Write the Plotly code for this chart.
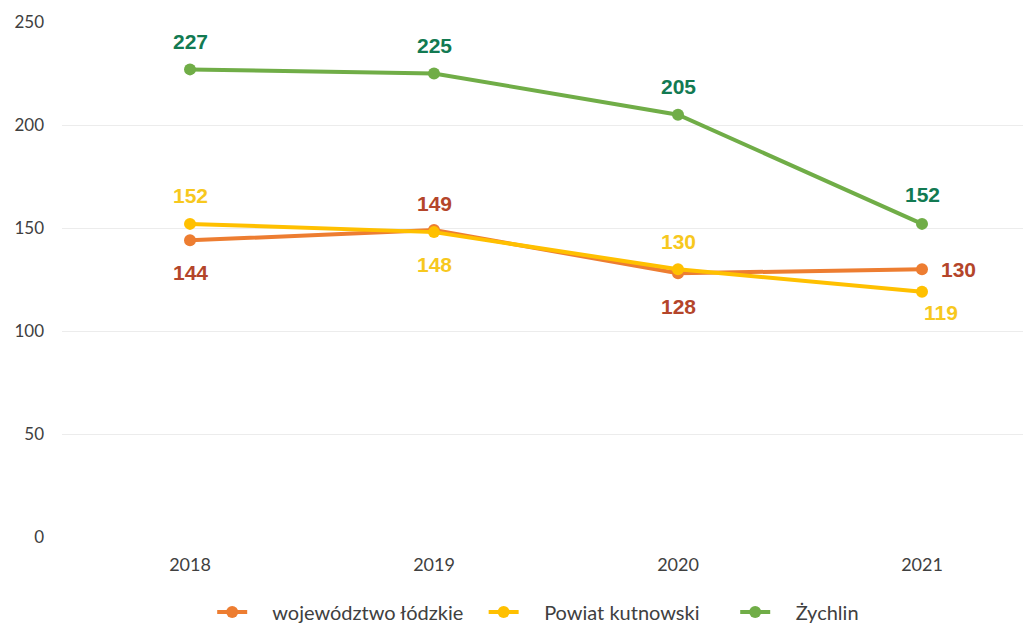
import plotly.graph_objects as go

years = [2018, 2019, 2020, 2021]
lodzkie = [144, 149, 128, 130]
kutnowski = [152, 148, 130, 119]
zychlin = [227, 225, 205, 152]
series_names = ["województwo łódzkie", "Powiat kutnowski", "Żychlin"]
y_ticks = [0, 50, 100, 150, 200, 250]

line_colors = ["#ED7D31", "#FFC000", "#70AD47"]
label_colors = ["#B4452A", "#F7C81E", "#127A52"]

# label offsets (xshift, yshift) per point
offsets = [
    [(0, -32), (0, 27), (0, -33), (36, 0)],
    [(0, 28), (0, -32), (0, 28), (19, -21)],
    [(0, 28), (0, 28), (0, 28), (0, 29)],
]

NB = "\u00a0"
pad_after = [3, 6, 0]
fig = go.Figure()
all_series = [lodzkie, kutnowski, zychlin]
for name, vals, lc, pa in zip(series_names, all_series, line_colors, pad_after):
    fig.add_trace(go.Scatter(
        x=years, y=vals, name=NB * 4 + name + NB * pa, mode="lines+markers",
        line=dict(color=lc, width=4),
        marker=dict(color=lc, size=12),
    ))

annotations = []
for vals, lab, offs in zip(all_series, label_colors, offsets):
    for x, v, (dx, dy) in zip(years, vals, offs):
        annotations.append(dict(
            x=x, y=v, text="<b>" + str(v) + "</b>", showarrow=False,
            xshift=dx, yshift=dy,
            font=dict(family="Liberation Sans, Arial, sans-serif", size=21, color=lab),
        ))

fig.update_layout(
    width=1023, height=615,
    margin=dict(l=54, r=0, t=14, b=86),
    paper_bgcolor="white", plot_bgcolor="white",
    showlegend=True,
    legend=dict(orientation="h", xref="paper", x=0.155, xanchor="left",
                yref="container", y=0.0179, yanchor="middle",
                font=dict(family="Lato, Open Sans, sans-serif", size=20, color="#404040"),
                tracegroupgap=0),
    annotations=annotations,
    xaxis=dict(range=[2017.4754, 2021.4467], tickvals=years, ticktext=[str(y) for y in years],
               showgrid=False, zeroline=False, showline=False,
               tickfont=dict(family="Lato, Open Sans, sans-serif", size=18, color="#404040"),
               ticklabelstandoff=15),
    yaxis=dict(range=[0, 250], tickvals=y_ticks, showgrid=True, gridcolor="#ececec",
               gridwidth=1, zeroline=False, showline=False,
               tickfont=dict(family="Lato, Open Sans, sans-serif", size=17, color="#404040"),
               ticklabelstandoff=17),
)

fig.write_html("out.html")
